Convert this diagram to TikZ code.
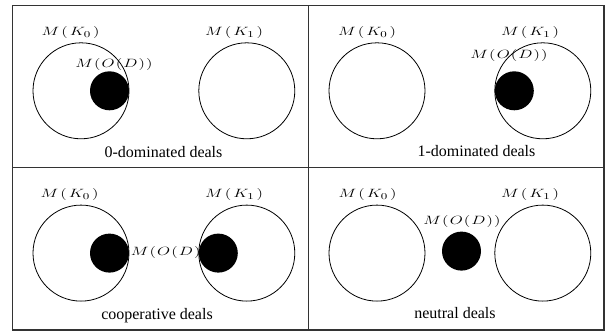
\documentclass[tikz,border=0pt]{standalone}
\usepackage{graphicx}
\usepackage{fontspec}
\setmainfont{Liberation Serif}
\newcommand{\gk}{\kern1.5pt}
\newcommand{\gq}{\kern0.8pt}
\newcommand{\MK}[1]{\scalebox{1.4}[1]{$M\gk(\gk K_{#1}\gk)$}}
\newcommand{\MOD}{\scalebox{1.4}[1]{$M\gq(\gq O\gq(\gq D\gq)\gq)$}}
\tikzset{
  frame/.style={draw=black!80, line width=1.3pt},
  setc/.style={circle, draw=black, line width=0.8pt, minimum size=96pt, inner sep=0pt},
  disk/.style={circle, fill=black, minimum size=39pt, inner sep=0pt},
  lab/.style={font=\fontsize{12.5}{15}\selectfont, inner sep=0pt},
  captext/.style={font=\fontsize{16}{19}\selectfont, inner sep=0pt}
}
\begin{document}
\begin{tikzpicture}[x=1pt,y=-1pt]
\useasboundingbox (0,0) rectangle (605,333);
% frame
\draw[frame] (12.5,5.3) rectangle (604,330);
\draw[frame] (308.5,5.3) -- (308.5,330);
\draw[frame] (12.5,167.6) -- (604,167.6);
% panel 1
\begin{scope}[shift={(12.5,5.3)}]
  \node[setc] (a0) at (68.5,85.5) {};
  \node[setc] (a1) at (234.3,85.5) {};
  \node[disk] (ad) at (97,85.5) {};
  \node[lab] (ak0) at (58,27) {\MK{0}};
  \node[lab] (ak1) at (221.5,27) {\MK{1}};
  \node[lab] (aod) at (101.5,59.5) {\MOD};
  \node[captext] (acap) at (151,146.5) {0-dominated deals};
\end{scope}
% panel 2
\begin{scope}[shift={(308.5,5.3)}]
  \node[setc] (b0) at (68.5,85.5) {};
  \node[setc] (b1) at (234.3,85.5) {};
  \node[disk] (bd) at (205.8,85.5) {};
  \node[lab] (bk0) at (58.5,27) {\MK{0}};
  \node[lab] (bk1) at (221.5,27) {\MK{1}};
  \node[lab] (bod) at (200.5,50) {\MOD};
  \node[captext] (bcap) at (168,146) {1-dominated deals};
\end{scope}
% panel 3
\begin{scope}[shift={(12.5,167.6)}]
  \node[setc] (c0) at (68.5,85.5) {};
  \node[setc] (c1) at (234.3,85.5) {};
  \node[lab] (cod) at (157,85) {\MOD};
  \node[disk] (cd0) at (97,85.5) {};
  \node[disk] (cd1) at (205.8,85.5) {};
  \node[lab] (ck0) at (57,27) {\MK{0}};
  \node[lab] (ck1) at (221.5,27) {\MK{1}};
  \node[captext] (ccap) at (144.5,148) {cooperative deals};
\end{scope}
% panel 4
\begin{scope}[shift={(308.5,167.6)}]
  \node[setc] (d0) at (68.5,85.5) {};
  \node[setc] (d1) at (234.3,85.5) {};
  \node[disk] (dd) at (153,83.5) {};
  \node[lab] (dk0) at (59,27) {\MK{0}};
  \node[lab] (dk1) at (221.5,27) {\MK{1}};
  \node[lab] (dod) at (153.5,54) {\MOD};
  \node[captext] (dcap) at (146.5,145.5) {neutral deals};
\end{scope}
\end{tikzpicture}
\end{document}
